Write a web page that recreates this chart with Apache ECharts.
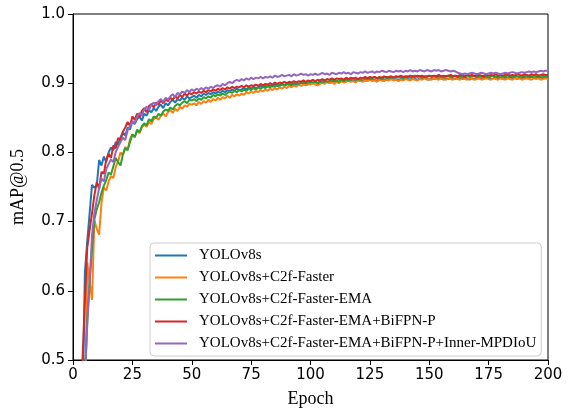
<!DOCTYPE html>
<html>
<head>
<meta charset="utf-8">
<script src="https://cdn.jsdelivr.net/npm/echarts@6/dist/echarts.min.js"></script>
<style>
  html, body { margin: 0; padding: 0; background: #fff; }
  #chart { width: 572px; height: 413px; }
</style>
</head>
<body>
<div id="chart"></div>
<script>
// mAP@0.5 per epoch, epochs 1..200
var seriesNames = ['YOLOv8s', 'YOLOv8s+C2f-Faster', 'YOLOv8s+C2f-Faster-EMA',
  'YOLOv8s+C2f-Faster-EMA+BiFPN-P', 'YOLOv8s+C2f-Faster-EMA+BiFPN-P+Inner-MPDIoU'];
var colors = ['#1f77b4', '#ff7f0e', '#2ca02c', '#d62728', '#9467bd'];
var xTicks = [0, 25, 50, 75, 100, 125, 150, 175, 200];
var yTicks = [0.5, 0.6, 0.7, 0.8, 0.9, 1.0];

var yolov8s = [
  0.020, 0.120, 0.280, 0.420, 0.626, 0.672, 0.712, 0.753, 0.749, 0.752,
  0.789, 0.781, 0.794, 0.786, 0.800, 0.807, 0.803, 0.815, 0.811, 0.822,
  0.829, 0.824, 0.836, 0.833, 0.845, 0.841, 0.848, 0.852, 0.846, 0.856,
  0.853, 0.861, 0.858, 0.864, 0.860, 0.866, 0.869, 0.864, 0.871, 0.868,
  0.873, 0.876, 0.872, 0.877, 0.875, 0.879, 0.876, 0.881, 0.878, 0.880,
  0.882, 0.879, 0.883, 0.881, 0.885, 0.883, 0.886, 0.884, 0.887, 0.885,
  0.888, 0.886, 0.889, 0.887, 0.890, 0.888, 0.891, 0.889, 0.892, 0.890,
  0.891, 0.893, 0.891, 0.894, 0.892, 0.895, 0.893, 0.894, 0.896, 0.894,
  0.896, 0.895, 0.897, 0.895, 0.898, 0.896, 0.897, 0.899, 0.897, 0.898,
  0.899, 0.897, 0.900, 0.898, 0.899, 0.901, 0.899, 0.900, 0.898, 0.901,
  0.900, 0.902, 0.900, 0.901, 0.903, 0.901, 0.902, 0.900, 0.903, 0.902,
  0.903, 0.901, 0.904, 0.902, 0.903, 0.905, 0.903, 0.904, 0.902, 0.905,
  0.904, 0.903, 0.905, 0.904, 0.906, 0.904, 0.905, 0.903, 0.906, 0.905,
  0.904, 0.906, 0.905, 0.907, 0.905, 0.906, 0.904, 0.906, 0.905, 0.907,
  0.906, 0.905, 0.907, 0.906, 0.905, 0.907, 0.906, 0.908, 0.906, 0.905,
  0.907, 0.906, 0.908, 0.906, 0.907, 0.905, 0.907, 0.906, 0.908, 0.907,
  0.906, 0.908, 0.907, 0.906, 0.908, 0.907, 0.905, 0.907, 0.906, 0.908,
  0.907, 0.906, 0.908, 0.907, 0.908, 0.906, 0.907, 0.909, 0.907, 0.908,
  0.906, 0.908, 0.907, 0.909, 0.907, 0.908, 0.906, 0.908, 0.907, 0.909,
  0.908, 0.907, 0.909, 0.908, 0.907, 0.909, 0.908, 0.907, 0.909, 0.908
];

var c2fFaster = [
  0.020, 0.080, 0.200, 0.300, 0.400, 0.641, 0.612, 0.587, 0.702, 0.690,
  0.681, 0.727, 0.749, 0.745, 0.758, 0.766, 0.763, 0.779, 0.787, 0.800,
  0.796, 0.808, 0.804, 0.819, 0.826, 0.822, 0.831, 0.828, 0.836, 0.840,
  0.837, 0.844, 0.841, 0.848, 0.851, 0.847, 0.853, 0.856, 0.852, 0.858,
  0.861, 0.857, 0.863, 0.860, 0.866, 0.863, 0.868, 0.866, 0.870, 0.869,
  0.871, 0.868, 0.873, 0.870, 0.874, 0.872, 0.876, 0.873, 0.877, 0.875,
  0.879, 0.876, 0.880, 0.878, 0.882, 0.879, 0.883, 0.881, 0.884, 0.882,
  0.885, 0.883, 0.887, 0.885, 0.888, 0.886, 0.889, 0.887, 0.890, 0.888,
  0.891, 0.889, 0.892, 0.890, 0.893, 0.891, 0.894, 0.892, 0.895, 0.893,
  0.896, 0.894, 0.897, 0.895, 0.898, 0.896, 0.898, 0.897, 0.899, 0.898,
  0.900, 0.898, 0.897, 0.899, 0.901, 0.899, 0.902, 0.900, 0.901, 0.899,
  0.902, 0.900, 0.903, 0.901, 0.902, 0.904, 0.902, 0.903, 0.901, 0.904,
  0.903, 0.902, 0.904, 0.903, 0.905, 0.903, 0.904, 0.902, 0.905, 0.904,
  0.903, 0.905, 0.904, 0.906, 0.904, 0.905, 0.903, 0.905, 0.904, 0.906,
  0.905, 0.904, 0.906, 0.905, 0.904, 0.906, 0.905, 0.907, 0.905, 0.906,
  0.905, 0.907, 0.906, 0.905, 0.907, 0.906, 0.905, 0.907, 0.906, 0.905,
  0.907, 0.906, 0.905, 0.907, 0.906, 0.905, 0.907, 0.906, 0.905, 0.906,
  0.907, 0.905, 0.906, 0.907, 0.906, 0.905, 0.907, 0.906, 0.905, 0.907,
  0.906, 0.905, 0.907, 0.906, 0.905, 0.907, 0.906, 0.907, 0.905, 0.906,
  0.907, 0.906, 0.905, 0.907, 0.906, 0.907, 0.905, 0.906, 0.907, 0.906
];

var c2fFasterEma = [
  0.020, 0.100, 0.220, 0.350, 0.470, 0.560, 0.615, 0.660, 0.703, 0.718,
  0.728, 0.742, 0.752, 0.760, 0.771, 0.768, 0.780, 0.792, 0.786, 0.781,
  0.797, 0.806, 0.803, 0.815, 0.826, 0.822, 0.833, 0.829, 0.838, 0.842,
  0.839, 0.848, 0.845, 0.852, 0.850, 0.856, 0.853, 0.859, 0.862, 0.860,
  0.865, 0.862, 0.867, 0.870, 0.868, 0.872, 0.874, 0.871, 0.876, 0.875,
  0.877, 0.874, 0.878, 0.876, 0.880, 0.878, 0.881, 0.879, 0.883, 0.881,
  0.884, 0.882, 0.885, 0.883, 0.886, 0.888, 0.886, 0.889, 0.887, 0.890,
  0.888, 0.891, 0.889, 0.892, 0.890, 0.893, 0.891, 0.894, 0.892, 0.895,
  0.893, 0.896, 0.894, 0.897, 0.895, 0.898, 0.896, 0.898, 0.897, 0.899,
  0.898, 0.900, 0.898, 0.901, 0.899, 0.900, 0.902, 0.900, 0.901, 0.903,
  0.901, 0.902, 0.900, 0.903, 0.901, 0.904, 0.902, 0.903, 0.905, 0.903,
  0.904, 0.902, 0.905, 0.903, 0.906, 0.904, 0.905, 0.907, 0.905, 0.906,
  0.905, 0.907, 0.906, 0.908, 0.906, 0.907, 0.909, 0.907, 0.908, 0.906,
  0.908, 0.909, 0.907, 0.909, 0.908, 0.910, 0.908, 0.909, 0.907, 0.909,
  0.910, 0.908, 0.909, 0.911, 0.909, 0.910, 0.908, 0.910, 0.909, 0.911,
  0.909, 0.910, 0.911, 0.909, 0.910, 0.908, 0.910, 0.911, 0.909, 0.910,
  0.911, 0.909, 0.910, 0.908, 0.910, 0.911, 0.909, 0.910, 0.911, 0.909,
  0.910, 0.909, 0.911, 0.910, 0.908, 0.910, 0.911, 0.909, 0.910, 0.911,
  0.909, 0.910, 0.911, 0.910, 0.909, 0.911, 0.910, 0.909, 0.911, 0.910,
  0.911, 0.909, 0.910, 0.911, 0.910, 0.909, 0.911, 0.910, 0.911, 0.910
];

var bifpnP = [
  0.030, 0.150, 0.320, 0.500, 0.585, 0.662, 0.688, 0.712, 0.738, 0.757,
  0.748, 0.772, 0.769, 0.790, 0.798, 0.792, 0.810, 0.806, 0.821, 0.817,
  0.830, 0.836, 0.844, 0.838, 0.852, 0.847, 0.856, 0.851, 0.860, 0.864,
  0.858, 0.867, 0.870, 0.865, 0.872, 0.869, 0.875, 0.871, 0.876, 0.874,
  0.879, 0.876, 0.881, 0.878, 0.883, 0.880, 0.885, 0.882, 0.886, 0.884,
  0.887, 0.885, 0.888, 0.886, 0.889, 0.887, 0.890, 0.888, 0.891, 0.889,
  0.892, 0.890, 0.893, 0.891, 0.894, 0.892, 0.895, 0.893, 0.895, 0.894,
  0.896, 0.894, 0.897, 0.895, 0.897, 0.896, 0.898, 0.896, 0.899, 0.897,
  0.899, 0.898, 0.900, 0.898, 0.901, 0.899, 0.901, 0.900, 0.902, 0.900,
  0.902, 0.901, 0.903, 0.901, 0.903, 0.902, 0.904, 0.902, 0.904, 0.903,
  0.905, 0.903, 0.905, 0.904, 0.906, 0.904, 0.906, 0.905, 0.907, 0.905,
  0.907, 0.906, 0.907, 0.905, 0.908, 0.906, 0.908, 0.907, 0.908, 0.906,
  0.908, 0.907, 0.909, 0.907, 0.909, 0.908, 0.909, 0.907, 0.909, 0.908,
  0.910, 0.908, 0.909, 0.910, 0.908, 0.910, 0.909, 0.911, 0.909, 0.910,
  0.909, 0.911, 0.910, 0.909, 0.911, 0.910, 0.911, 0.909, 0.910, 0.911,
  0.910, 0.911, 0.910, 0.912, 0.910, 0.911, 0.910, 0.911, 0.912, 0.910,
  0.911, 0.910, 0.912, 0.911, 0.910, 0.912, 0.911, 0.912, 0.910, 0.911,
  0.912, 0.911, 0.910, 0.912, 0.911, 0.912, 0.911, 0.913, 0.911, 0.912,
  0.911, 0.912, 0.913, 0.911, 0.912, 0.911, 0.913, 0.912, 0.911, 0.913,
  0.912, 0.911, 0.913, 0.912, 0.913, 0.911, 0.912, 0.913, 0.912, 0.912
];

var innerMpdiou = [
  0.010, 0.100, 0.250, 0.380, 0.470, 0.550, 0.610, 0.680, 0.712, 0.731,
  0.748, 0.762, 0.758, 0.776, 0.783, 0.790, 0.786, 0.801, 0.808, 0.815,
  0.821, 0.818, 0.832, 0.838, 0.845, 0.842, 0.852, 0.857, 0.853, 0.862,
  0.866, 0.861, 0.869, 0.872, 0.868, 0.874, 0.877, 0.873, 0.879, 0.876,
  0.881, 0.884, 0.880, 0.886, 0.884, 0.888, 0.886, 0.890, 0.887, 0.891,
  0.889, 0.892, 0.890, 0.893, 0.891, 0.894, 0.892, 0.895, 0.893, 0.896,
  0.897, 0.895, 0.899, 0.897, 0.900, 0.902, 0.900, 0.903, 0.905, 0.903,
  0.906, 0.904, 0.907, 0.905, 0.908, 0.906, 0.908, 0.907, 0.909, 0.907,
  0.909, 0.908, 0.910, 0.908, 0.911, 0.909, 0.910, 0.912, 0.910, 0.911,
  0.912, 0.910, 0.913, 0.911, 0.912, 0.914, 0.912, 0.913, 0.911, 0.913,
  0.912, 0.914, 0.912, 0.913, 0.915, 0.913, 0.914, 0.912, 0.915, 0.914,
  0.913, 0.915, 0.914, 0.916, 0.914, 0.915, 0.913, 0.916, 0.915, 0.914,
  0.916, 0.915, 0.917, 0.915, 0.916, 0.917, 0.915, 0.917, 0.916, 0.918,
  0.917, 0.916, 0.918, 0.917, 0.916, 0.918, 0.917, 0.918, 0.916, 0.918,
  0.917, 0.919, 0.917, 0.918, 0.917, 0.919, 0.918, 0.917, 0.919, 0.918,
  0.917, 0.919, 0.918, 0.919, 0.917, 0.918, 0.919, 0.918, 0.917, 0.918,
  0.917, 0.915, 0.914, 0.913, 0.914, 0.913, 0.914, 0.915, 0.914, 0.913,
  0.914, 0.915, 0.914, 0.913, 0.914, 0.915, 0.914, 0.915, 0.914, 0.913,
  0.914, 0.915, 0.914, 0.915, 0.916, 0.915, 0.914, 0.915, 0.916, 0.915,
  0.916, 0.917, 0.916, 0.917, 0.916, 0.917, 0.918, 0.917, 0.918, 0.918
];

var allValues = [yolov8s, c2fFaster, c2fFasterEma, bifpnP, innerMpdiou];

// pair each value with its epoch (1-based)
function withEpochs(arr) {
  return arr.map(function (v, i) { return [i + 1, v]; });
}

var chart = echarts.init(document.getElementById('chart'));

var series = seriesNames.map(function (name, k) {
  return {
    name: name,
    type: 'line',
    data: withEpochs(allValues[k]),
    symbol: 'none',
    clip: true,
    lineStyle: { width: 2, color: colors[k] },
    itemStyle: { color: colors[k] }
  };
});

var option = {
  animation: false,
  backgroundColor: '#fff',
  color: colors,
  grid: {
    left: 73, right: 24, top: 14, bottom: 49,
    show: true, borderColor: '#000', borderWidth: 1
  },
  legend: {
    data: seriesNames,
    orient: 'vertical',
    left: 150, top: 243,
    padding: [4, 5, 4, 5],
    icon: 'rect',
    itemWidth: 32, itemHeight: 2, itemGap: 5,
    backgroundColor: 'rgba(255,255,255,0.85)',
    borderColor: '#cccccc', borderWidth: 1, borderRadius: 4,
    textStyle: {
      fontFamily: 'Liberation Serif', fontSize: 15, color: '#000',
      lineHeight: 17, padding: [0, 0, 0, 7]
    }
  },
  xAxis: {
    type: 'value',
    min: xTicks[0], max: xTicks[xTicks.length - 1], interval: 25,
    name: 'Epoch', nameLocation: 'middle', nameGap: 30,
    nameTextStyle: { fontFamily: 'Liberation Serif', fontSize: 18, color: '#000' },
    axisLine: { lineStyle: { color: '#000', width: 1 } },
    axisTick: { show: true, inside: false, length: 5, lineStyle: { color: '#000' } },
    axisLabel: { margin: 8, fontFamily: 'DejaVu Sans', fontSize: 15, color: '#000' },
    splitLine: { show: false }
  },
  yAxis: {
    type: 'value',
    min: yTicks[0], max: yTicks[yTicks.length - 1], interval: 0.1,
    name: 'mAP@0.5', nameLocation: 'middle', nameGap: 46, nameRotate: 90,
    nameTextStyle: { fontFamily: 'Liberation Serif', fontSize: 18, color: '#000' },
    axisLine: { show: true, lineStyle: { color: '#000', width: 1 } },
    axisTick: { show: true, inside: false, length: 5, lineStyle: { color: '#000' } },
    axisLabel: {
      margin: 8, fontFamily: 'DejaVu Sans', fontSize: 15, color: '#000',
      formatter: function (v) { return v.toFixed(1); }
    },
    splitLine: { show: false }
  },
  series: series
};

chart.setOption(option);
</script>
</body>
</html>
